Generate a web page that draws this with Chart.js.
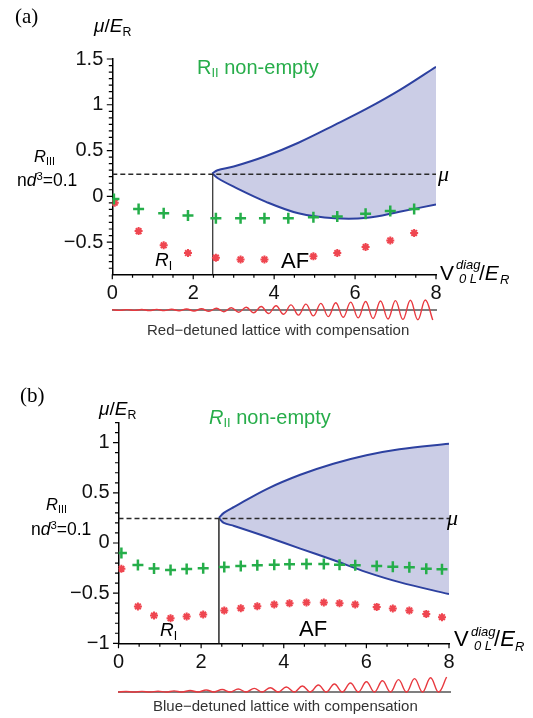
<!DOCTYPE html>
<html>
<head>
<meta charset="utf-8">
<script src="https://cdn.jsdelivr.net/npm/chart.js@4.4.1/dist/chart.umd.min.js"></script>
<style>
body { margin: 0; background: #fff; width: 533px; height: 718px; position: relative; overflow: hidden;
       font-family: "Liberation Sans", Arial, sans-serif; color: #000; }
canvas { position: absolute; left: 0; }
.lbl { position: absolute; white-space: nowrap; line-height: 1; }
.serif { font-family: "Liberation Serif", "DejaVu Serif", serif; }
.green { color: #27ad4a; }
.gray { color: #333; }
.sub { font-size: 0.65em; position: relative; top: 0.3em; }
.sup { font-size: 0.65em; position: relative; top: -0.55em; }
</style>
</head>
<body>
<canvas id="chartA" width="533" height="300" style="top:0"></canvas>
<canvas id="waveA" width="533" height="30" style="top:295px"></canvas>
<canvas id="chartB" width="533" height="310" style="top:360px"></canvas>
<canvas id="waveB" width="533" height="30" style="top:670px"></canvas>
<script>
// 共通
const xMin = 0, xMax = 8;
const xTicks = [0, 2, 4, 6, 8];

// (a) red-detuned
const yMinA = -0.852, yMaxA = 1.5;
const yTicksA = [-0.5, 0, 0.5, 1, 1.5];
const muA = 0.24;
const boundaryA = 2.48;
const curveXA = [2.47, 2.6, 3.0, 3.8, 4.6, 5.5, 6.3, 7.1, 8.0];
const upperA  = [0.25, 0.285, 0.325, 0.44, 0.585, 0.78, 0.96, 1.16, 1.415];
const lowerA  = [0.25, 0.20, 0.105, -0.06, -0.185, -0.24, -0.235, -0.168, -0.09];
const plusXA = [0.04, 0.65, 1.27, 1.87, 2.56, 3.17, 3.76, 4.35, 4.97, 5.56, 6.26, 6.87, 7.46];
const plusYA = [-0.03, -0.14, -0.185, -0.21, -0.24, -0.24, -0.24, -0.24, -0.23, -0.22, -0.19, -0.16, -0.14];
const starXA = [0.06, 0.65, 1.27, 1.87, 2.56, 3.17, 3.76, 4.97, 5.56, 6.26, 6.87, 7.46];
const starYA = [-0.07, -0.38, -0.535, -0.62, -0.67, -0.69, -0.69, -0.656, -0.62, -0.554, -0.482, -0.40];
// lattice sketch: amplitude of each cycle (px)
const waveAmpA = [0.4, 0.4, 0.5, 0.6, 0.8, 1.0, 1.3, 1.7, 2.2, 2.8, 3.5, 4.3, 5.1, 5.9, 6.6, 7.3, 7.9, 8.5, 9.0, 9.4, 9.7, 10.0];

// (b) blue-detuned
const yMinB = -1, yMaxB = 1.2;
const yTicksB = [-1, -0.5, 0, 0.5, 1];
const muB = 0.245;
const boundaryB = 2.43;
const curveXB = [2.43, 2.55, 2.8, 3.6, 4.4, 5.2, 6.0, 6.8, 8.0];
const upperB  = [0.25, 0.30, 0.36, 0.54, 0.68, 0.79, 0.875, 0.935, 0.99];
const lowerB  = [0.25, 0.20, 0.17, 0.06, -0.056, -0.17, -0.29, -0.39, -0.51];
const pointXB = [0.07, 0.47, 0.86, 1.26, 1.65, 2.05, 2.56, 2.96, 3.36, 3.77, 4.14, 4.55, 4.97, 5.35, 5.73, 6.25, 6.64, 7.04, 7.45, 7.83];
const plusYB = [-0.10, -0.22, -0.255, -0.27, -0.26, -0.253, -0.24, -0.23, -0.223, -0.217, -0.213, -0.21, -0.21, -0.217, -0.223, -0.23, -0.237, -0.243, -0.257, -0.263];
const starYB = [-0.257, -0.633, -0.723, -0.75, -0.733, -0.713, -0.673, -0.65, -0.63, -0.613, -0.6, -0.593, -0.593, -0.6, -0.613, -0.637, -0.653, -0.673, -0.707, -0.74];
// lattice sketch: peak height of each cycle above the baseline (px)
const wavePeakB = [0.5, 0.6, 0.8, 1.1, 1.5, 2.0, 2.5, 3.0, 3.6, 4.3, 5.0, 6.0, 7.0, 8.0, 9.0, 10.2, 11.3, 12.4, 13.4, 14.3, 15.0];

const COLORS = {
    green: '#25ae4a',
    red: '#ef4650',
    blue: '#2d41a0',
    fill: 'rgba(190, 192, 224, 0.8)',
    wave: '#e8393f'
};

const pts = (xs, ys) => xs.map((x, i) => ({ x: x, y: ys[i] }));
const fmt = (v) => (v < 0 ? '\u2212' : '') + Math.abs(v);

// 小目盛り（外向き）
const tickMarks = {
    id: 'tickMarks',
    afterDraw(chart, args, opts) {
        if (!opts.yStep) return;
        const { ctx, chartArea, scales: { x, y } } = chart;
        ctx.save();
        ctx.strokeStyle = '#000';
        ctx.lineWidth = 1.2;
        ctx.beginPath();
        for (let k = Math.ceil(x.min / opts.xStep - 1e-9); k * opts.xStep <= x.max + 1e-9; k++) {
            const px = x.getPixelForValue(k * opts.xStep);
            const len = k % opts.xPer === 0 ? 5 : 3.5;
            ctx.moveTo(px, chartArea.bottom);
            ctx.lineTo(px, chartArea.bottom + len);
        }
        for (let k = Math.ceil(y.min / opts.yStep - 1e-9); k * opts.yStep <= y.max + 1e-9; k++) {
            const py = y.getPixelForValue(k * opts.yStep);
            const len = k % opts.yPer === 0 ? 5.5 : 3.5;
            ctx.moveTo(chartArea.left, py);
            ctx.lineTo(chartArea.left - len, py);
        }
        ctx.stroke();
        ctx.restore();
    }
};

function phaseChart(id, cfg) {
    const line = (data, extra) => Object.assign({
        data: data, showLine: true, pointRadius: 0, borderWidth: 2,
        borderColor: COLORS.blue, tension: 0.35, fill: false
    }, extra);
    return new Chart(document.getElementById(id), {
        type: 'scatter',
        data: {
            datasets: [
                { data: pts(cfg.plusX, cfg.plusY), pointStyle: 'cross', pointRadius: 5.5,
                  borderColor: COLORS.green, borderWidth: 2.5 },
                { data: pts(cfg.starX, cfg.starY), pointStyle: 'star', pointRadius: 4,
                  borderColor: COLORS.red, borderWidth: 2 },
                line([{ x: xMin, y: cfg.mu }, { x: xMax, y: cfg.mu }],
                     { borderColor: '#2a2a2a', borderWidth: 1.5, borderDash: [5, 3], tension: 0 }),
                line([{ x: cfg.boundary, y: cfg.mu }, { x: cfg.boundary, y: cfg.yMin }],
                     { borderColor: '#444', borderWidth: 1, tension: 0 }),
                line(pts(cfg.curveX, cfg.upper), { fill: '+1', backgroundColor: COLORS.fill }),
                line(pts(cfg.curveX, cfg.lower))
            ]
        },
        options: {
            responsive: false,
            animation: false,
            layout: { padding: cfg.padding },
            plugins: {
                legend: { display: false },
                tooltip: { enabled: false },
                filler: { drawTime: 'beforeDatasetsDraw' },
                tickMarks: { xStep: 0.5, xPer: 4, yStep: cfg.yStep, yPer: cfg.yPer }
            },
            scales: {
                x: {
                    type: 'linear', min: xMin, max: xMax,
                    afterBuildTicks: (s) => { s.ticks = xTicks.map(v => ({ value: v })); },
                    afterFit: (s) => { s.height = cfg.xHeight; },
                    grid: { display: false, drawTicks: false, tickLength: 0 },
                    border: { display: true, color: '#000', width: 1.5 },
                    ticks: { color: '#111', padding: 7, maxRotation: 0,
                             font: { family: 'Liberation Sans', size: 20 }, callback: fmt }
                },
                y: {
                    type: 'linear', min: cfg.yMin, max: cfg.yMax,
                    afterBuildTicks: (s) => { s.ticks = cfg.yTicks.map(v => ({ value: v })); },
                    afterFit: (s) => { s.width = cfg.yWidth; },
                    grid: { display: false, drawTicks: false, tickLength: 0 },
                    border: { display: true, color: '#000', width: 1.5 },
                    ticks: { color: '#111', padding: 9,
                             font: { family: 'Liberation Sans', size: 20 }, callback: fmt }
                }
            }
        },
        plugins: [tickMarks]
    });
}

// 格子のスケッチ
const baseline = {
    id: 'baseline',
    beforeDatasetsDraw(chart) {
        const { ctx, chartArea, scales: { y } } = chart;
        ctx.save();
        ctx.strokeStyle = '#555';
        ctx.lineWidth = 1.5;
        ctx.beginPath();
        ctx.moveTo(chartArea.left, y.getPixelForValue(0));
        ctx.lineTo(chartArea.right + 2, y.getPixelForValue(0));
        ctx.stroke();
        ctx.restore();
    }
};

function waveChart(id, values, yMin, yMax, padding) {
    return new Chart(document.getElementById(id), {
        type: 'line',
        data: {
            datasets: [{
                data: values.map((v, i) => ({ x: i, y: v })),
                borderColor: COLORS.wave, borderWidth: 1.4, pointRadius: 0, tension: 0.4
            }]
        },
        options: {
            responsive: false,
            animation: false,
            layout: { padding: padding },
            plugins: { legend: { display: false }, tooltip: { enabled: false } },
            scales: {
                x: { type: 'linear', display: false, min: 0, max: values.length - 0.7 },
                y: { display: false, min: yMin, max: yMax }
            }
        },
        plugins: [baseline]
    });
}

phaseChart('chartA', {
    plusX: plusXA, plusY: plusYA, starX: starXA, starY: starYA,
    curveX: curveXA, upper: upperA, lower: lowerA,
    mu: muA, boundary: boundaryA,
    yMin: yMinA, yMax: yMaxA, yTicks: yTicksA, yStep: 0.5 / 7, yPer: 7,
    padding: { left: 0, right: 97, top: 59, bottom: 0 }, yWidth: 112.3, xHeight: 25.7
});
phaseChart('chartB', {
    plusX: pointXB, plusY: plusYB, starX: pointXB, starY: starYB,
    curveX: curveXB, upper: upperB, lower: lowerB,
    mu: muB, boundary: boundaryB,
    yMin: yMinB, yMax: yMaxB, yTicks: yTicksB, yStep: 0.1, yPer: 5,
    padding: { left: 0, right: 84, top: 62.6, bottom: 0 }, yWidth: 118.5, xHeight: 26.7
});

waveChart('waveA', waveAmpA.flatMap(a => [a, -a]), -15, 15, { left: 112, right: 98, top: 0, bottom: 0 });
waveChart('waveB', wavePeakB.flatMap(h => [0, h]), -8, 22, { left: 118, right: 84, top: 0, bottom: 0 });

// ラベル
function label(html, x, base, size, cls) {
    const d = document.createElement('div');
    d.className = 'lbl ' + (cls || '');
    d.style.left = x + 'px';
    d.style.top = (base - 0.847 * size) + 'px';
    d.style.fontSize = size + 'px';
    d.innerHTML = html;
    document.body.appendChild(d);
}

const muLabel = '<i>\u03bc</i>/<i>E</i><span class="sub">R</span>';
const rIII = '<i>R</i><span class="sub">III</span>';
const density = 'n<i>d</i><span class="sup">3</span>=0.1';
const rI = '<i>R</i><span class="sub">I</span>';

function vLabel(x, base, sx, ss) {
    label('V', x, base, sx);
    label('<i>diag</i>', x + ss.dx, base - 11, 13);
    label('<i>0 L</i>', x + ss.dx + 3, base + 3, 13);
    label('/<i>E</i>', x + ss.dx + 23, base, sx);
    label('<i>R</i>', x + ss.dx + 44, base + 4, 13);
}

// (a)
label('(a)', 15, 24, 21, 'serif');
label(muLabel, 94, 32, 19);
label('R<span class="sub">II</span> non-empty', 197, 73.5, 20, 'green');
label(rIII, 34, 162, 16.5);
label(density, 17, 187, 17.5);
label('<i>\u03bc</i>', 438, 182, 22, 'serif');
label(rI, 155, 266, 19);
label('AF', 281, 269, 22);
vLabel(440, 280, 21, { dx: 16 });
label('Red\u2212detuned lattice with compensation', 147, 335, 15, 'gray');

// (b)
label('(b)', 20, 403, 21, 'serif');
label(muLabel, 99, 415, 19);
label('<i>R</i><span class="sub">II</span> non-empty', 209, 423.5, 20, 'green');
label(rIII, 46, 510, 16.5);
label(density, 31, 536, 17.5);
label('<i>\u03bc</i>', 447, 526, 22, 'serif');
label(rI, 160, 636, 19);
label('AF', 299, 636.5, 22);
vLabel(454, 647, 22, { dx: 17 });
label('Blue\u2212detuned lattice with compensation', 153, 711, 15, 'gray');
</script>
</body>
</html>
